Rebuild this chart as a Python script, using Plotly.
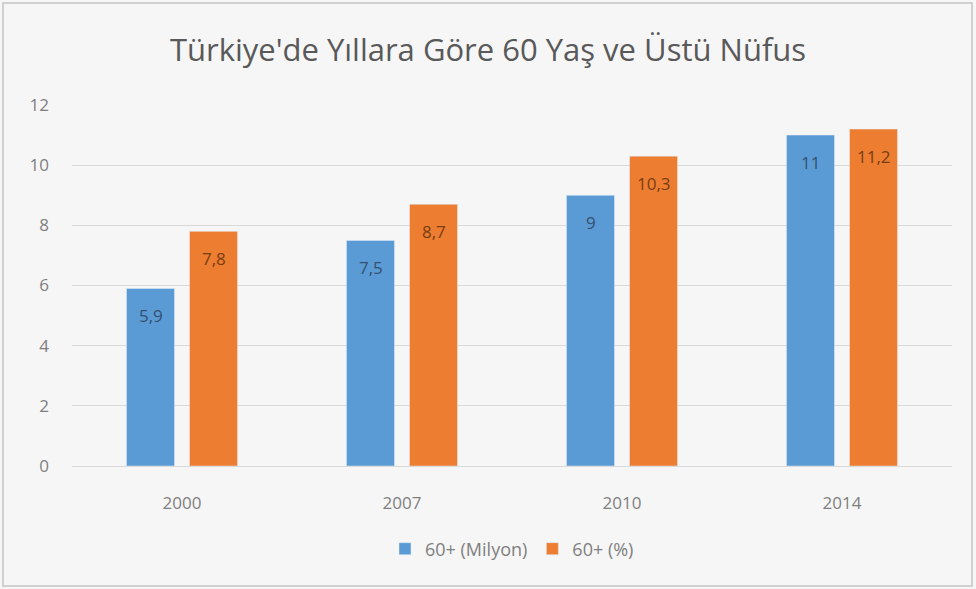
import plotly.graph_objects as go

years = ["2000", "2007", "2010", "2014"]
milyon = [5.9, 7.5, 9, 11]
yuzde = [7.8, 8.7, 10.3, 11.2]
milyon_labels = ["5,9", "7,5", "9", "11"]
yuzde_labels = ["7,8", "8,7", "10,3", "11,2"]

FONT = "Open Sans"
BG = "#f6f6f6"

fig = go.Figure()

# ============ BARS ================
fig.add_trace(
    go.Bar(x=years, y=milyon, name="60+ (Milyon)", marker=dict(color="#5b9bd5"))
)
fig.add_trace(
    go.Bar(x=years, y=yuzde, name="60+ (%)", marker=dict(color="#ed7d31"))
)

# ============ DATA LABELS (inside end) ================
# category axis: annotation x given as category index
for vals, labels, shift, color in (
    (milyon, milyon_labels, -31.5, "#34506e"),
    (yuzde, yuzde_labels, 31.5, "#7a3c12"),
):
    for i, (v, lab) in enumerate(zip(vals, labels)):
        fig.add_annotation(
            x=i, y=v, text=lab, showarrow=False,
            xshift=shift, yshift=-27, yanchor="middle",
            font=dict(size=17, color=color, family=FONT),
        )

# ============ LAYOUT ================
fig.update_layout(
    width=976,
    height=589,
    margin=dict(l=72, r=24, t=105, b=123),
    paper_bgcolor=BG,
    plot_bgcolor=BG,
    font=dict(family=FONT, color="#7f7f7f", size=17),
    title=dict(
        text="Türkiye'de Yıllara Göre 60 Yaş ve Üstü Nüfus",
        x=0.5,
        xanchor="center",
        y=1 - 50 / 589,
        yanchor="middle",
        font=dict(size=31, color="#595959", family=FONT),
    ),
    barmode="group",
    bargap=0.427,
    bargroupgap=0.238,
    showlegend=True,
    legend=dict(
        orientation="h",
        x=0.5,
        xanchor="center",
        y=-83 / 361,
        yanchor="middle",
        font=dict(size=18, color="#7f7f7f"),
        itemwidth=30,
    ),
)
fig.update_yaxes(
    range=[0, 12],
    dtick=2,
    showgrid=True,
    gridcolor="#d9d9d9",
    zeroline=False,
    showline=False,
    ticks="",
    ticklabelstandoff=22,
)
fig.update_xaxes(
    type="category",
    range=[-0.5, len(years) - 0.5],
    showline=True,
    linecolor="#d9d9d9",
    ticks="",
    ticklabelstandoff=22,
)
fig.add_shape(
    type="rect", xref="paper", yref="paper",
    x0=-69 / 880, x1=1 + 20 / 880, y0=-120 / 361, y1=1 + 102 / 361,
    line=dict(color="#d0d0d0", width=2),
)

fig.write_html(
    "out.html",
    config={"displayModeBar": False},
    post_script="document.body.style.margin='0';",
)
